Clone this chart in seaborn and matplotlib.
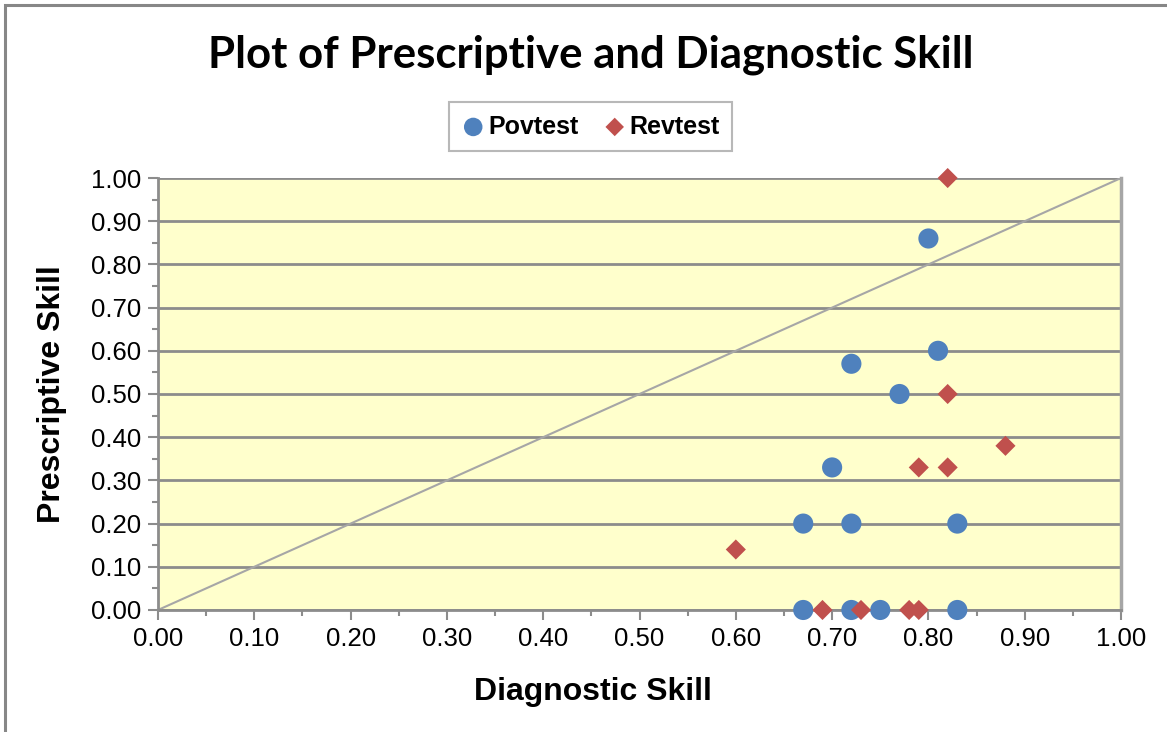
"""
    Scatter of prescriptive vs diagnostic skill
"""

import numpy as np
import pandas as pd
import seaborn as sns
import matplotlib.pyplot as plt
from matplotlib.patches import Rectangle
from matplotlib.ticker import MultipleLocator, FormatStrFormatter

# Data
pov_diag = [0.80, 0.81, 0.72, 0.77, 0.70, 0.67, 0.72, 0.83, 0.67, 0.72, 0.75, 0.83]
pov_presc = [0.86, 0.60, 0.57, 0.50, 0.33, 0.20, 0.20, 0.20, 0.00, 0.00, 0.00, 0.00]
rev_diag = [0.82, 0.82, 0.88, 0.79, 0.82, 0.60, 0.69, 0.73, 0.78, 0.79]
rev_presc = [1.00, 0.50, 0.38, 0.33, 0.33, 0.14, 0.00, 0.00, 0.00, 0.00]
diag_line = [0.0, 1.0]

pov = pd.DataFrame({"Diagnostic": pov_diag, "Prescriptive": pov_presc})
rev = pd.DataFrame({"Diagnostic": rev_diag, "Prescriptive": rev_presc})

sns.set_style("white")
plt.rcParams['font.family'] = ['Liberation Sans', 'DejaVu Sans']
plt.rcParams['text.color'] = 'black'
plt.rcParams['axes.labelcolor'] = 'black'
plt.rcParams['xtick.labelcolor'] = 'black'
plt.rcParams['ytick.labelcolor'] = 'black'

fig = plt.figure(figsize=(11.67, 7.32), dpi=100)
ax = fig.add_axes([0.1354, 0.1667, 0.8252, 0.5901])
ax.set_facecolor("#FFFFCC")

# outer chart border
fig.patches.append(Rectangle((5 / 1167, -0.05), 1.2, 1 - 5 / 732 + 0.05,
                             transform=fig.transFigure, fill=False,
                             edgecolor="#878787", linewidth=2.2, zorder=0))

# 1:1 line
ax.plot(diag_line, diag_line, color="#A6A6A6", linewidth=1.5, zorder=2)

sns.scatterplot(data=pov, x="Diagnostic", y="Prescriptive", ax=ax,
                marker="o", s=210, color="#4F81BD", edgecolor="none",
                label="Povtest", zorder=3, clip_on=False)
sns.scatterplot(data=rev, x="Diagnostic", y="Prescriptive", ax=ax,
                marker="D", s=105, color="#C0504D", edgecolor="none",
                label="Revtest", zorder=4, clip_on=False)

ax.set_xlim(0, 1)
ax.set_ylim(0, 1)
ax.xaxis.set_major_locator(MultipleLocator(0.1))
ax.xaxis.set_minor_locator(MultipleLocator(0.05))
ax.yaxis.set_major_locator(MultipleLocator(0.1))
ax.yaxis.set_minor_locator(MultipleLocator(0.05))
ax.xaxis.set_major_formatter(FormatStrFormatter("%.2f"))
ax.yaxis.set_major_formatter(FormatStrFormatter("%.2f"))

ax.grid(axis="y", which="major", color="#8C8C8C", linewidth=2)
ax.set_axisbelow(True)
ax.tick_params(axis="both", which="major", direction="out", length=7,
               width=1.5, color="#8C8C8C", labelsize=18.5, pad=5)
ax.tick_params(axis="both", which="minor", direction="out", length=4,
               width=1.5, color="#8C8C8C")
ax.tick_params(axis="x", which="both", bottom=True)
ax.tick_params(axis="y", which="both", left=True)

for side in ["left", "bottom"]:
    ax.spines[side].set_color("#8C8C8C")
    ax.spines[side].set_linewidth(2)
ax.spines["top"].set_visible(False)
ax.spines["right"].set_color("#A6A6A6")
ax.spines["right"].set_linewidth(2.5)

ax.set_xlabel("Diagnostic Skill", fontsize=23, fontweight="bold")
ax.set_ylabel("Prescriptive Skill", fontsize=23, fontweight="bold")
ax.xaxis.set_label_coords(0.4517, (610 - 692) / 432)
ax.xaxis.label.set_va("center")
ax.yaxis.set_label_coords((52 - 158) / 963, 0.5)
ax.yaxis.label.set_va("center")

fig.text(0.5064, 1 - 55 / 732, "Plot of Prescriptive and Diagnostic Skill",
         ha="center", va="center", fontsize=31.5, fontweight="bold",
         family=["Lato", "DejaVu Sans"])

leg = ax.legend(loc="center", bbox_to_anchor=(0.5064, 1 - 126.5 / 732),
                bbox_transform=fig.transFigure, ncol=2, fancybox=False,
                frameon=True, prop={"weight": "bold", "size": 18},
                handlelength=0.9, handletextpad=0.15, columnspacing=1.0,
                borderpad=0.5, borderaxespad=0.6, markerscale=0.92)
leg.get_frame().set_edgecolor("#A6A6A6")
leg.get_frame().set_linewidth(1.5)

plt.savefig("out.png", dpi=100)
